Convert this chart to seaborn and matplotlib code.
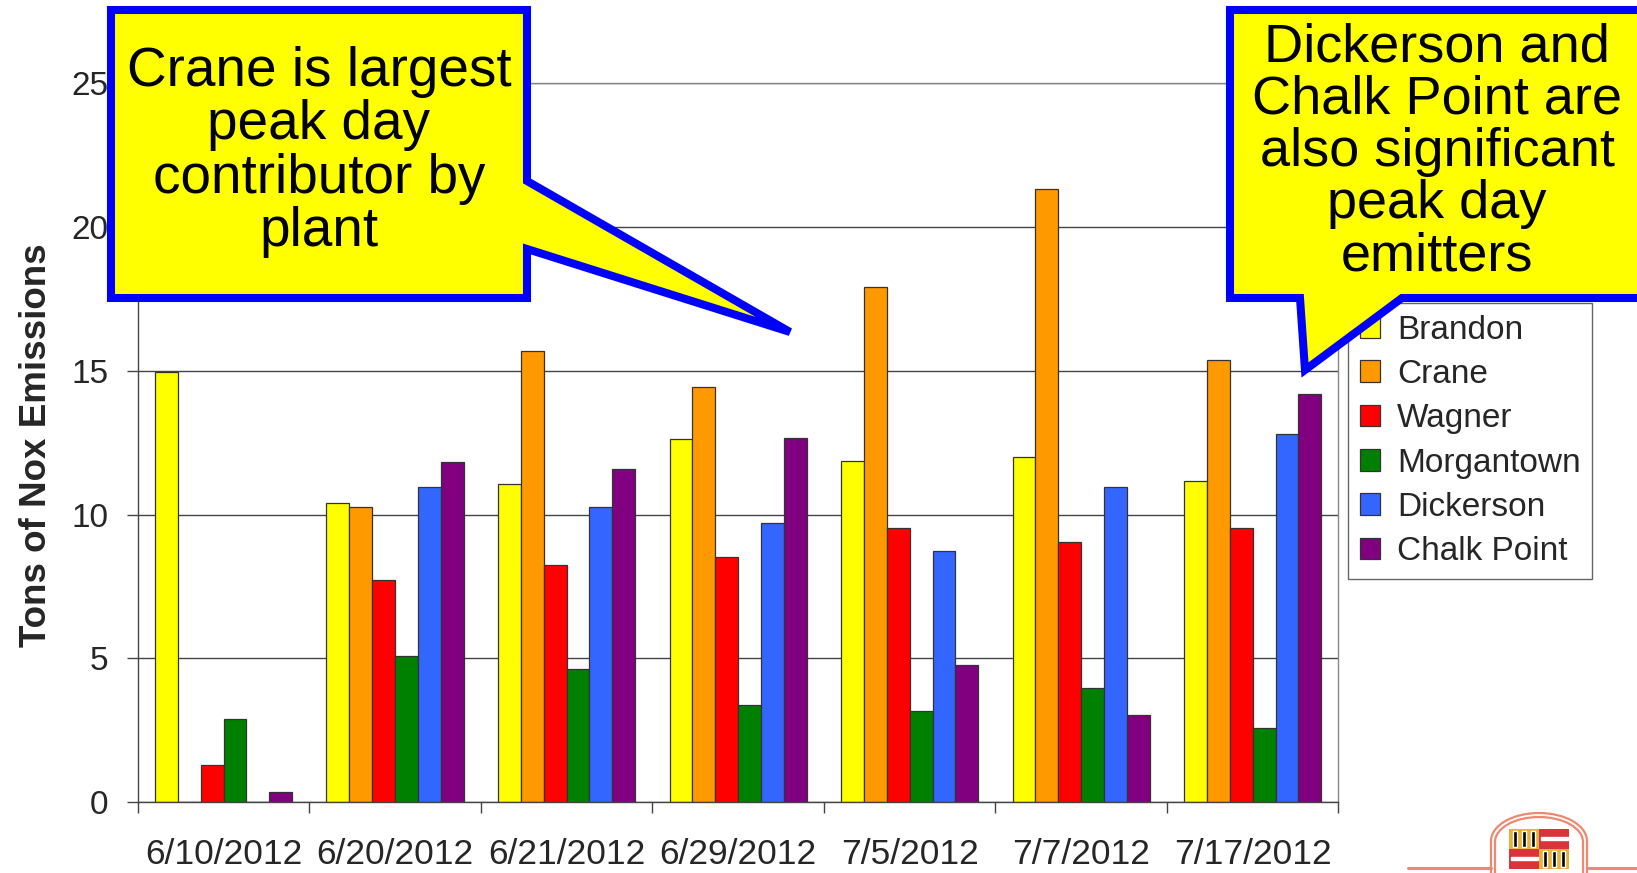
import numpy as np
import pandas as pd
import seaborn as sns
import matplotlib
matplotlib.use("Agg")
from matplotlib import pyplot as plt
from matplotlib.patches import Polygon, Rectangle, Arc

# Values (tons of NOx per plant per peak day)
dates = ["6/10/2012", "6/20/2012", "6/21/2012", "6/29/2012",
         "7/5/2012", "7/7/2012", "7/17/2012"]
plants = ["Brandon", "Crane", "Wagner", "Morgantown", "Dickerson", "Chalk Point"]
brandon = [14.95, 10.40, 11.07, 12.62, 11.86, 12.01, 11.15]
crane = [0.0, 10.26, 15.70, 14.44, 17.93, 21.31, 15.39]
wagner = [1.28, 7.71, 8.24, 8.51, 9.54, 9.06, 9.54]
morgantown = [2.90, 5.07, 4.63, 3.37, 3.15, 3.96, 2.59]
dickerson = [0.0, 10.97, 10.26, 9.72, 8.74, 10.97, 12.81]
chalk_point = [0.34, 11.81, 11.59, 12.66, 4.76, 3.04, 14.18]
colors = ["#FFFF00", "#FF9900", "#FF0000", "#008000", "#3366FF", "#800080"]

series = [brandon, crane, wagner, morgantown, dickerson, chalk_point]
rows = []
for plant, vals in zip(plants, series):
    for d, v in zip(dates, vals):
        rows.append({"date": d, "plant": plant, "tons": v})
data = pd.DataFrame(rows)

sns.set_theme(style="white")
plt.rcParams["font.family"] = ["Liberation Sans", "DejaVu Sans"]

W, H = 1637, 873
fig = plt.figure(figsize=(W / 100, H / 100), dpi=100)
ax = fig.add_axes([0.0842, 0.0813, 0.7334, 0.8233])

sns.barplot(data=data, x="date", y="tons", hue="plant", order=dates,
            hue_order=plants, palette=colors, errorbar=None, width=0.8,
            edgecolor="#333333", linewidth=0.9, saturation=1, ax=ax)

ax.set_ylim(0, 25)
ax.set_xlim(-0.5, len(dates) - 0.5)
ax.set_yticks([0, 5, 10, 15, 20, 25])
ax.yaxis.grid(True, color="#444444", lw=1)
ax.set_axisbelow(True)
ax.tick_params(axis="y", direction="out", length=8, width=1, color="#444444",
               labelsize=24, pad=13, left=True)

# category boundary ticks (major), labels on minor ticks at centres
ax.set_xticks(np.arange(-0.5, len(dates), 1.0))
ax.set_xticklabels([""] * (len(dates) + 1))
ax.set_xticks(np.arange(len(dates)), minor=True)
ax.set_xticklabels(dates, minor=True)
ax.tick_params(axis="x", which="major", direction="out", length=8, width=1,
               color="#444444", bottom=True)
ax.tick_params(axis="x", which="minor", length=0, labelsize=25.5, pad=26)
ax.set_xlabel("")

for side in ["left", "bottom"]:
    ax.spines[side].set_color("#444444")
    ax.spines[side].set_linewidth(1)
for side in ["right", "top"]:
    ax.spines[side].set_color("#888888")
    ax.spines[side].set_linewidth(1)

ax.set_ylabel("Tons of Nox Emissions", fontsize=26.5, fontweight="bold")
ax.yaxis.set_label_coords(-0.070, 0.497)

handles, labels = ax.get_legend_handles_labels()
ax.legend(handles, labels, loc="upper left",
          bbox_to_anchor=(1348 / W, 1 - 303 / H), bbox_transform=fig.transFigure,
          borderaxespad=0, fontsize=24, frameon=True, fancybox=False,
          edgecolor="#666666", framealpha=1, handlelength=0.62,
          handleheight=0.62, handletextpad=0.5, labelspacing=0.4,
          borderpad=0.35)
ax.get_legend().get_frame().set_linewidth(1)

# overlay in pixel coordinates for the callouts and the logo
ov = fig.add_axes([0, 0, 1, 1])
ov.set_xlim(0, W)
ov.set_ylim(H, 0)
ov.axis("off")

left_callout = [(111, 10), (527, 10), (527, 181), (790, 332), (527, 249),
                (527, 298), (111, 298)]
right_callout = [(1230, 10), (1665, 10), (1665, 298), (1402, 298), (1305, 370),
                 (1300, 298), (1230, 298)]
for pts in [left_callout, right_callout]:
    ov.add_patch(Polygon(pts, closed=True, facecolor="#FFFF00",
                         edgecolor="#0000FF", lw=5.8, joinstyle="miter"))

ov.text(319, 152, "Crane is largest\npeak day\ncontributor by\nplant",
        ha="center", va="center", multialignment="center", fontsize=39.5,
        linespacing=1.04, color="black")
ov.text(1437, 152, "Dickerson and\nChalk Point are\nalso significant\npeak day\nemitters",
        ha="center", va="center", multialignment="center", fontsize=39,
        linespacing=1.06, color="black")

# small state logo, bottom right (cut off by the page edge)
logo_c = "#EE8870"
for rx, ry, top in [(48, 28, 813), (44, 25, 817)]:
    cy = top + ry
    ov.add_patch(Arc((1539, cy), 2 * rx, 2 * ry, theta1=180, theta2=360,
                     color=logo_c, lw=1.6))
    ov.plot([1539 - rx, 1539 - rx], [cy, 880], color=logo_c, lw=1.6)
    ov.plot([1539 + rx, 1539 + rx], [cy, 880], color=logo_c, lw=1.6)
ov.plot([1408, 1491], [868, 868], color=logo_c, lw=2.2)
ov.plot([1587, 1640], [868, 868], color=logo_c, lw=2.2)
for (x0, y0, c) in [(1509, 829, "#E8B23A"), (1539, 829, "#D8343A"),
                    (1509, 849, "#D8343A"), (1539, 849, "#E8B23A")]:
    ov.add_patch(Rectangle((x0, y0), 30, 20, facecolor=c, edgecolor="none"))
for x0 in [1513, 1522, 1531]:
    ov.add_patch(Rectangle((x0, 831), 4, 16, facecolor="black"))
for x0 in [1543, 1552, 1561]:
    ov.add_patch(Rectangle((x0, 851), 4, 16, facecolor="black"))
ov.add_patch(Rectangle((1541, 837), 27, 3, facecolor="white"))
ov.add_patch(Rectangle((1511, 857), 27, 3, facecolor="white"))

fig.savefig("out.png", dpi=100)
